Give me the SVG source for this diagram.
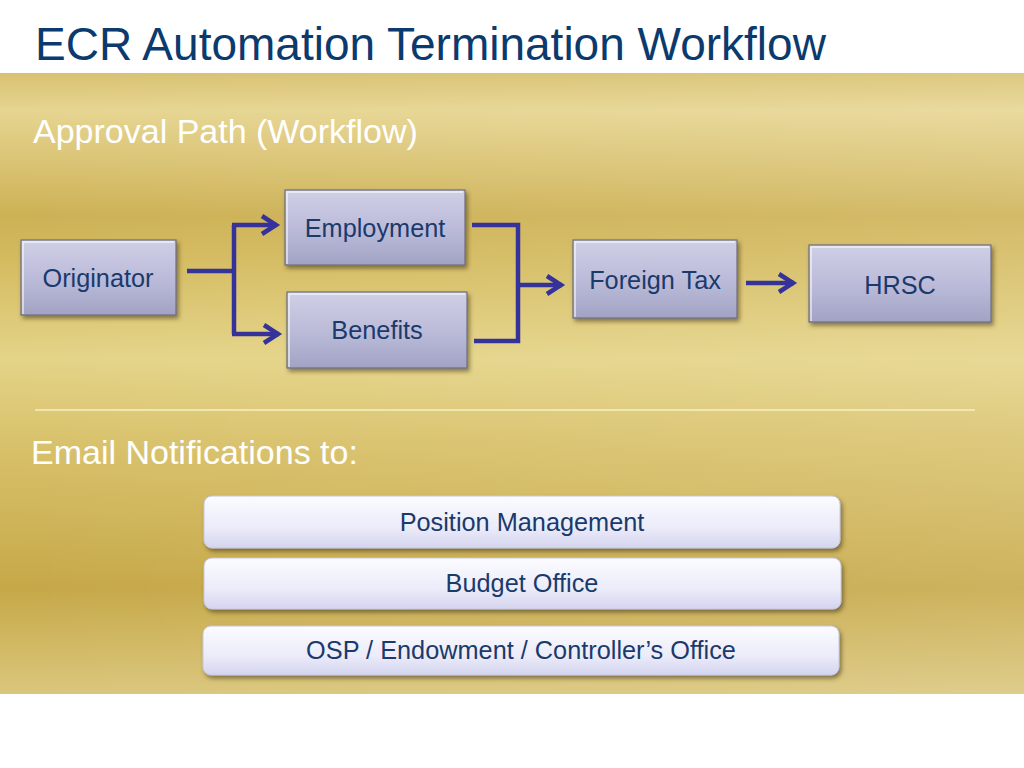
<svg xmlns="http://www.w3.org/2000/svg" width="1024" height="768" viewBox="0 0 1024 768">
<defs>
<linearGradient id="band" x1="0" y1="0" x2="0" y2="1">
<stop offset="0" stop-color="#d8c170"/>
<stop offset="0.06" stop-color="#e6d591"/>
<stop offset="0.23" stop-color="#cdb155"/>
<stop offset="0.30" stop-color="#d4bb60"/>
<stop offset="0.46" stop-color="#e4d488"/>
<stop offset="0.59" stop-color="#d9c26c"/>
<stop offset="0.83" stop-color="#c6a848"/>
<stop offset="1" stop-color="#dac67c"/>
</linearGradient>
<linearGradient id="sheen" x1="0" y1="0" x2="1" y2="0">
<stop offset="0" stop-color="#ffffff" stop-opacity="0"/>
<stop offset="1" stop-color="#ffffff" stop-opacity="0.12"/>
</linearGradient>
<linearGradient id="node" x1="0" y1="0" x2="0" y2="1">
<stop offset="0" stop-color="#cfcfe6"/>
<stop offset="0.5" stop-color="#bcbcda"/>
<stop offset="1" stop-color="#a2a2c4"/>
</linearGradient>
<linearGradient id="pill" x1="0" y1="0" x2="0" y2="1">
<stop offset="0" stop-color="#fbfbff"/>
<stop offset="0.6" stop-color="#ececfa"/>
<stop offset="1" stop-color="#d4d4ef"/>
</linearGradient>
<filter id="shadow" x="-10%" y="-20%" width="130%" height="150%">
<feDropShadow dx="2" dy="3" stdDeviation="2" flood-color="#3a2e10" flood-opacity="0.55"/>
</filter>
<marker id="arrow" markerUnits="userSpaceOnUse" markerWidth="22" markerHeight="24" refX="18" refY="12" orient="auto">
<path d="M3,3 L17,12 L3,21" fill="none" stroke="#35329a" stroke-width="4.5" stroke-linejoin="miter"/>
</marker>
</defs>
<style>
.title{font-family:"Liberation Sans",Arial,sans-serif;font-size:46px;fill:#0b3a6e}
.head{font-family:"Liberation Sans",Arial,sans-serif;font-size:34px;fill:#ffffff}
.lbl{font-family:"Liberation Sans",Arial,sans-serif;font-size:25.3px;fill:#1b3a6c;text-anchor:middle}
.box{fill:url(#node);stroke:#6f6f7f;stroke-width:1.2;filter:url(#shadow)}
.bevel{fill:none;stroke:#ffffff;stroke-opacity:0.7;stroke-width:1.5}
.pbox{fill:url(#pill);stroke:#c8c8dc;stroke-width:1;filter:url(#shadow)}
.conn{fill:none;stroke:#35329a;stroke-width:4.5;stroke-linejoin:miter}
</style>
<rect x="0" y="0" width="1024" height="768" fill="#ffffff"/>
<rect x="0" y="73" width="1024" height="621" fill="url(#band)"/>
<rect x="0" y="73" width="1024" height="621" fill="url(#sheen)"/>
<text class="title" x="35" y="60">ECR Automation Termination Workflow</text>
<text class="head" x="33" y="143">Approval Path (Workflow)</text>
<line x1="35" y1="410" x2="975" y2="410" stroke="#f6efc2" stroke-width="1.5"/>
<text class="head" x="31" y="464">Email Notifications to:</text>

<g id="connectors">
<path class="conn" d="M187,271 H234"/>
<path class="conn" d="M234,225 V334"/>
<path class="conn" d="M232,225 H277" marker-end="url(#arrow)"/>
<path class="conn" d="M232,334 H279" marker-end="url(#arrow)"/>
<path class="conn" d="M472,225 H518 V341 H474"/>
<path class="conn" d="M518,285 H562" marker-end="url(#arrow)"/>
<path class="conn" d="M746,283 H794" marker-end="url(#arrow)"/>
</g>

<g id="node-originator">
<rect class="box" x="21" y="240" width="155" height="75"/>
<path class="bevel" d="M23,314 V242 H174"/>
<text class="lbl" x="98" y="287">Originator</text>
</g>
<g id="node-employment">
<rect class="box" x="285" y="190" width="180" height="75"/>
<path class="bevel" d="M287,264 V192 H463"/>
<text class="lbl" x="375" y="237">Employment</text>
</g>
<g id="node-benefits">
<rect class="box" x="287" y="292" width="180" height="76"/>
<path class="bevel" d="M289,367 V294 H465"/>
<text class="lbl" x="377" y="339">Benefits</text>
</g>
<g id="node-foreigntax">
<rect class="box" x="573" y="240" width="164" height="78"/>
<path class="bevel" d="M575,317 V242 H735"/>
<text class="lbl" x="655" y="289">Foreign Tax</text>
</g>
<g id="node-hrsc">
<rect class="box" x="809" y="245" width="182" height="77"/>
<path class="bevel" d="M811,321 V247 H989"/>
<text class="lbl" x="900" y="294">HRSC</text>
</g>

<g id="node-position">
<rect class="pbox" x="204" y="496" width="636" height="52" rx="8"/>
<text class="lbl" x="522" y="531">Position Management</text>
</g>
<g id="node-budget">
<rect class="pbox" x="204" y="558" width="637" height="51" rx="8"/>
<text class="lbl" x="522" y="592">Budget Office</text>
</g>
<g id="node-osp">
<rect class="pbox" x="203" y="626" width="636" height="49" rx="8"/>
<text class="lbl" x="521" y="659">OSP / Endowment / Controller’s Office</text>
</g>
</svg>
